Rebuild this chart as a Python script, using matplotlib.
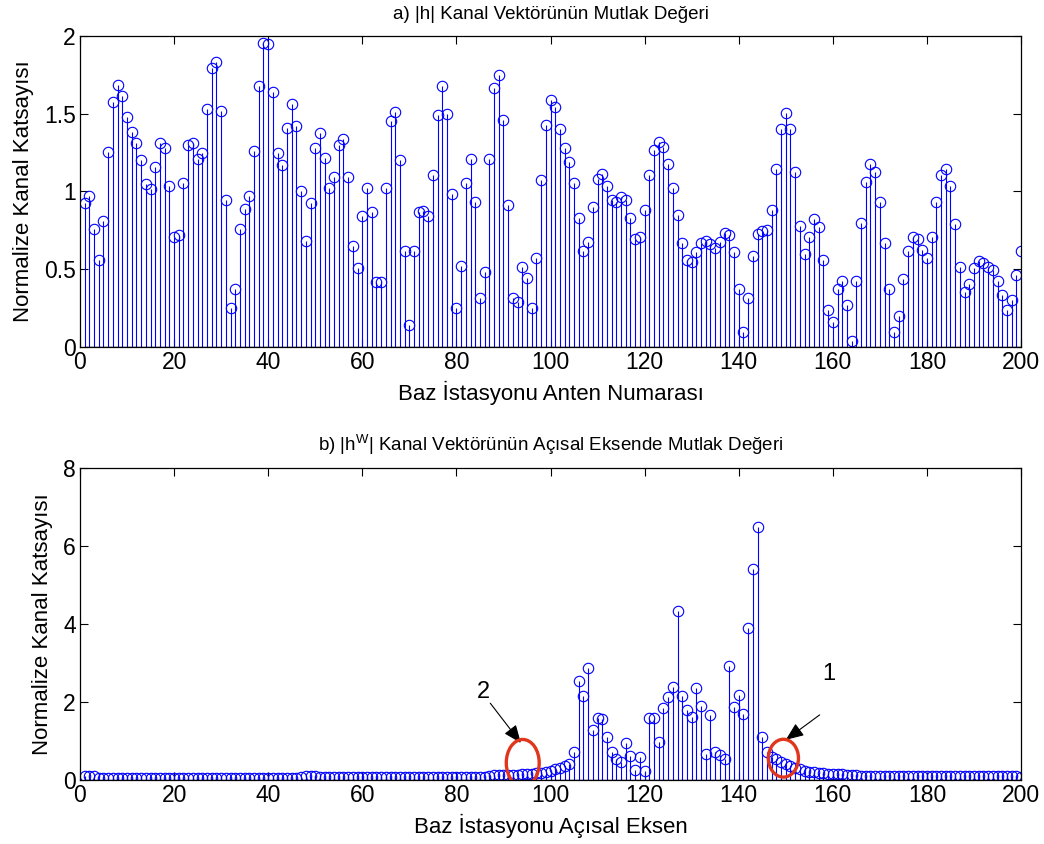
import numpy as np
import matplotlib
matplotlib.use("Agg")
import matplotlib.pyplot as plt
from matplotlib.patches import Ellipse

plt.rcParams['font.family'] = ['Liberation Sans', 'DejaVu Sans']

# anten indeksleri
n = np.arange(1, 201)

# a) |h| degerleri
h_abs = [
    0.925, 0.974, 0.758, 0.557, 0.810, 1.253, 1.576, 1.685, 1.615, 1.478,
    1.381, 1.310, 1.200, 1.047, 1.015, 1.160, 1.310, 1.280, 1.036, 0.709,
    0.717, 1.053, 1.300, 1.310, 1.208, 1.250, 1.531, 1.797, 1.830, 1.518,
    0.942, 0.250, 0.373, 0.758, 0.889, 0.974, 1.259, 1.675, 1.957, 1.949,
    1.642, 1.246, 1.167, 1.407, 1.563, 1.422, 1.004, 0.679, 0.925, 1.278,
    1.379, 1.218, 1.021, 1.096, 1.298, 1.338, 1.096, 0.647, 0.505, 0.839,
    1.024, 0.869, 0.415, 0.415, 1.024, 1.454, 1.514, 1.200, 0.619, 0.141,
    0.619, 0.869, 0.874, 0.839, 1.107, 1.493, 1.675, 1.501, 0.983, 0.250,
    0.522, 1.053, 1.208, 0.934, 0.313, 0.484, 1.208, 1.666, 1.747, 1.460,
    0.910, 0.313, 0.289, 0.512, 0.443, 0.250, 0.574, 1.075, 1.430, 1.585,
    1.542, 1.403, 1.278, 1.188, 1.053, 0.829, 0.619, 0.672, 0.902, 1.083,
    1.113, 1.036, 0.944, 0.934, 0.964, 0.942, 0.829, 0.696, 0.707, 0.880,
    1.105, 1.268, 1.321, 1.289, 1.176, 1.024, 0.850, 0.668, 0.561, 0.546,
    0.610, 0.668, 0.679, 0.662, 0.636, 0.672, 0.732, 0.722, 0.608, 0.373,
    0.099, 0.313, 0.582, 0.728, 0.747, 0.754, 0.880, 1.146, 1.403, 1.503,
    1.403, 1.124, 0.780, 0.595, 0.707, 0.822, 0.771, 0.557, 0.240, 0.158,
    0.373, 0.422, 0.272, 0.036, 0.422, 0.800, 1.064, 1.176, 1.124, 0.931,
    0.668, 0.373, 0.099, 0.201, 0.437, 0.619, 0.707, 0.696, 0.625, 0.574,
    0.707, 0.931, 1.105, 1.146, 1.034, 0.790, 0.512, 0.351, 0.407, 0.505,
    0.555, 0.540, 0.514, 0.492, 0.424, 0.332, 0.240, 0.304, 0.465, 0.619,
]

# b) |h^W| degerleri
hw_abs = [
    0.11, 0.11, 0.10, 0.06, 0.06, 0.06, 0.06, 0.06, 0.06, 0.06,
    0.06, 0.06, 0.06, 0.06, 0.06, 0.06, 0.06, 0.06, 0.06, 0.06,
    0.06, 0.06, 0.06, 0.06, 0.06, 0.06, 0.06, 0.06, 0.06, 0.06,
    0.06, 0.06, 0.06, 0.06, 0.06, 0.06, 0.06, 0.06, 0.06, 0.06,
    0.06, 0.06, 0.06, 0.06, 0.06, 0.06, 0.07, 0.10, 0.10, 0.10,
    0.09, 0.09, 0.09, 0.09, 0.09, 0.09, 0.09, 0.09, 0.09, 0.09,
    0.09, 0.09, 0.09, 0.09, 0.09, 0.09, 0.09, 0.09, 0.09, 0.09,
    0.09, 0.09, 0.09, 0.09, 0.09, 0.09, 0.09, 0.09, 0.09, 0.09,
    0.09, 0.09, 0.09, 0.09, 0.09, 0.09, 0.10, 0.12, 0.13, 0.13,
    0.14, 0.14, 0.14, 0.15, 0.15, 0.16, 0.17, 0.19, 0.21, 0.24,
    0.27, 0.30, 0.35, 0.40, 0.73, 2.53, 2.15, 2.87, 1.29, 1.60,
    1.56, 1.11, 0.73, 0.53, 0.45, 0.94, 0.62, 0.26, 0.58, 0.23,
    1.60, 1.60, 0.97, 1.84, 2.14, 2.39, 4.34, 2.15, 1.79, 1.62,
    2.35, 1.91, 0.66, 1.67, 0.72, 0.63, 0.53, 2.92, 1.88, 2.18,
    1.69, 3.89, 5.40, 6.48, 1.11, 0.71, 0.60, 0.53, 0.47, 0.41,
    0.36, 0.32, 0.27, 0.24, 0.21, 0.20, 0.18, 0.17, 0.16, 0.15,
    0.15, 0.15, 0.14, 0.14, 0.13, 0.11, 0.10, 0.10, 0.10, 0.10,
    0.10, 0.10, 0.10, 0.10, 0.10, 0.10, 0.10, 0.10, 0.10, 0.10,
    0.10, 0.10, 0.10, 0.10, 0.10, 0.10, 0.10, 0.10, 0.10, 0.10,
    0.10, 0.10, 0.10, 0.10, 0.10, 0.10, 0.10, 0.10, 0.10, 0.09,
]

fig = plt.figure(figsize=(10.44, 8.44), dpi=100)
ax1 = fig.add_axes([0.0766, 0.5889, 0.9014, 0.3685])
ax2 = fig.add_axes([0.0766, 0.0758, 0.9014, 0.3697])


def stem_panel(ax, y, ymax, yticks, ylabels):
    markers, stems, base = ax.stem(n, y, linefmt='b-', markerfmt='bo', basefmt='k-')
    markers.set_markerfacecolor('none')
    markers.set_markersize(7.5)
    markers.set_markeredgewidth(0.8)
    stems.set_linewidth(0.8)
    base.set_linewidth(1.0)
    ax.set_xlim(0, 200)
    ax.set_ylim(0, ymax)
    ax.set_xticks(np.arange(0, 201, 20))
    ax.set_yticks(yticks)
    ax.set_yticklabels(ylabels)
    ax.tick_params(direction='in', top=True, right=True, length=6, width=0.8,
                   labelsize=16.5, pad=3)
    for s in ax.spines.values():
        s.set_linewidth(0.9)
    ax.set_ylabel('Normalize Kanal Katsayısı', fontsize=16, labelpad=7)


stem_panel(ax1, h_abs, 2, [0, 0.5, 1, 1.5, 2], ['0', '0.5', '1', '1.5', '2'])
ax1.set_title('a) |h| Kanal Vektörünün Mutlak Değeri', fontsize=13.5, pad=12)
ax1.set_xlabel('Baz İstasyonu Anten Numarası', fontsize=16, labelpad=5)

stem_panel(ax2, hw_abs, 8, [0, 2, 4, 6, 8], ['0', '2', '4', '6', '8'])
ax2.set_title('b) |h$^{\\mathregular{W}}$| Kanal Vektörünün Açısal Eksende Mutlak Değeri',
              fontsize=13.5, pad=12)
ax2.set_xlabel('Baz İstasyonu Açısal Eksen', fontsize=16, labelpad=5)

# isaretlenen bolgeler
red = '#e0361c'
ax2.add_patch(Ellipse((94.1, 0.44), 7.0, 1.2, fill=False, edgecolor=red, linewidth=2.4, zorder=5))
ax2.add_patch(Ellipse((149.5, 0.56), 6.4, 0.97, angle=0, fill=False, edgecolor=red, linewidth=2.4, zorder=5))

arrow = dict(arrowstyle='-|>,head_length=1.1,head_width=0.45', color='black', lw=0.8,
             shrinkA=0, shrinkB=0)
ax2.annotate('', xy=(93.7, 0.95), xytext=(87.2, 1.97), arrowprops=arrow)
ax2.text(85.7, 2.26, '2', fontsize=17, ha='center', va='center')
ax2.annotate('', xy=(150.0, 1.03), xytext=(157.2, 1.67), arrowprops=arrow)
ax2.text(159.2, 2.72, '1', fontsize=17, ha='center', va='center')

fig.savefig('out.png', dpi=100)
